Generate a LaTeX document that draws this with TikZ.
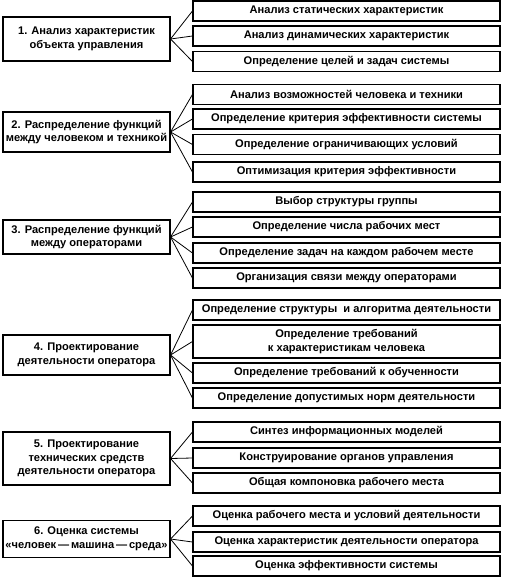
\documentclass[tikz,border=0pt]{standalone}
\usepackage{fontspec}
\setmainfont{Liberation Sans}
\begin{document}
\begin{tikzpicture}[
  x=1pt, y=-1pt,
  every node/.style={font=\bfseries\fontsize{11.1}{13.8}\selectfont},
  stage/.style={draw, line width=1.1pt, minimum width=167pt, inner sep=0.5pt, align=center},
  task/.style={draw, line width=1.1pt, minimum width=307pt, minimum height=20pt, inner sep=0.5pt, align=center},
  fan/.style={line width=0.8pt}
]
\useasboundingbox (0,0) rectangle (504,577);
% stage 1
\node[stage, minimum height=44pt] (s1) at (86.5,39) {1. Анализ характеристик\\объекта управления};
\node[task] (s1a) at (346.5,11) {Анализ статических характеристик};
\node[task] (s1b) at (346.5,36) {Анализ динамических характеристик};
\node[task] (s1c) at (346.5,61.5) {Определение целей и задач системы};
% stage 2
\node[stage, minimum height=40pt] (s2) at (86.5,132) {2. Распределение функций\\между человеком и техникой};
\node[task] (s2a) at (346.5,94.5) {Анализ возможностей человека и техники};
\node[task] (s2b) at (346.5,119) {Определение критерия эффективности системы};
\node[task] (s2c) at (346.5,144.5) {Определение ограничивающих условий};
\node[task] (s2d) at (346.5,172) {Оптимизация критерия эффективности};
% stage 3
\node[stage, minimum height=34pt] (s3) at (86.5,237) {3. Распределение функций\\между операторами};
\node[task] (s3a) at (346.5,202) {Выбор структуры группы};
\node[task] (s3b) at (346.5,227) {Определение числа рабочих мест};
\node[task] (s3c) at (346.5,253) {Определение задач на каждом рабочем месте};
\node[task] (s3d) at (346.5,278) {Организация связи между операторами};
% stage 4
\node[stage, minimum height=40pt] (s4) at (86.5,355) {4. Проектирование\\деятельности оператора};
\node[task] (s4a) at (346.5,310) {Определение структуры \ и алгоритма деятельности};
\node[task, minimum height=33pt] (s4b) at (346.5,341.5) {Определение требований\\к характеристикам человека};
\node[task] (s4c) at (346.5,373) {Определение требований к обученности};
\node[task] (s4d) at (346.5,398) {Определение допустимых норм деятельности};
% stage 5
\node[stage, minimum height=53pt] (s5) at (86.5,458.5) {5. Проектирование\\технических средств\\деятельности оператора};
\node[task] (s5a) at (346.5,432) {Синтез информационных моделей};
\node[task] (s5b) at (346.5,458) {Конструирование органов управления};
\node[task] (s5c) at (346.5,483) {Общая компоновка рабочего места};
% stage 6
\node[stage, minimum height=37pt] (s6) at (86.5,539) {6. Оценка системы\\«человек\,—\,машина\,—\,среда»};
\node[task] (s6a) at (346.5,516) {Оценка рабочего места и условий деятельности};
\node[task] (s6b) at (346.5,542) {Оценка характеристик деятельности оператора};
\node[task] (s6c) at (346.5,566) {Оценка эффективности системы};
% fans
\draw[fan] (s1a.west) -- (s1.east) -- (s1c.west);
\draw[fan] (s1.east) -- (s1b.west);
\draw[fan] (s2a.west) -- (s2.east) -- (s2d.west);
\draw[fan] (s2.east) -- (s2b.west);
\draw[fan] (s2.east) -- (s2c.west);
\draw[fan] (s3a.west) -- (s3.east) -- (s3d.west);
\draw[fan] (s3.east) -- (s3b.west);
\draw[fan] (s3.east) -- (s3c.west);
\draw[fan] (s4a.west) -- (s4.east) -- (s4d.west);
\draw[fan] (s4.east) -- (s4b.west);
\draw[fan] (s4.east) -- (s4c.west);
\draw[fan] (s5a.west) -- (s5.east) -- (s5c.west);
\draw[fan] (s5.east) -- (s5b.west);
\draw[fan] (s6a.west) -- (s6.east) -- (s6c.west);
\draw[fan] (s6.east) -- (s6b.west);
\end{tikzpicture}
\end{document}
